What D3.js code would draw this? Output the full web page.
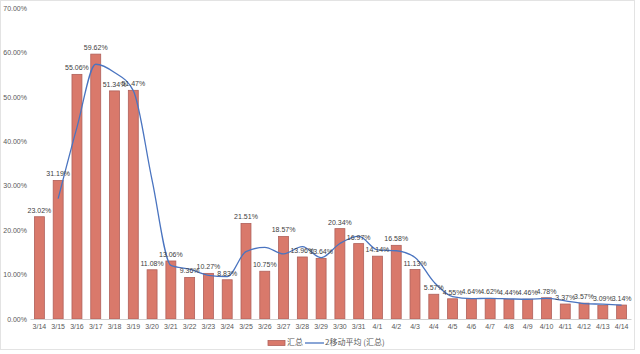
<!DOCTYPE html>
<meta charset="utf-8">
<script src="https://d3js.org/d3.v7.min.js"></script>
<style>
  body { margin: 0; background: #fff; }
  text { font-family: "Noto Sans CJK SC", "Liberation Sans", sans-serif; }
</style>
<div id="my_dataviz"></div>
<script>

// categories and values
var dates = ["3/14","3/15","3/16","3/17","3/18","3/19","3/20","3/21","3/22","3/23","3/24",
  "3/25","3/26","3/27","3/28","3/29","3/30","3/31","4/1","4/2","4/3","4/4","4/5","4/6",
  "4/7","4/8","4/9","4/10","4/11","4/12","4/13","4/14"];
var totals = [23.02,31.19,55.06,59.62,51.34,51.47,11.08,13.06,9.36,10.27,8.83,
  21.51,10.75,18.57,13.96,13.64,20.34,16.97,14.14,16.58,11.13,5.57,4.55,4.64,
  4.62,4.44,4.46,4.78,3.37,3.57,3.09,3.14];
// 2-period moving average line (starts at 3/15)
var movAvg = [null,27.11,43.13,57.34,55.48,51.41,31.28,12.07,11.21,9.82,9.55,
  15.17,16.13,14.66,16.27,13.80,16.99,18.66,15.56,15.36,13.86,8.35,5.06,4.60,
  4.63,4.53,4.45,4.62,4.08,3.47,3.33,3.12];
var yTicks = [0,10,20,30,40,50,60,70];

var W = 640, H = 354;
var margin = {top: 8, right: 9, bottom: 35, left: 30},
    width = 631 - margin.left,
    height = 319 - margin.top;

var root = d3.select("#my_dataviz")
  .append("svg")
    .attr("width", W)
    .attr("height", H);

// chart area border
root.append("rect")
  .attr("x", 0.5).attr("y", 0.5)
  .attr("width", 634).attr("height", 349)
  .attr("fill", "#fff")
  .attr("stroke", "#e3e3e3");

var svg = root.append("g")
  .attr("transform", "translate(" + margin.left + "," + margin.top + ")");

var x = d3.scaleBand()
  .domain(dates)
  .range([0, width])
  .paddingInner(0.47)
  .paddingOuter(0.235);

var y = d3.scaleLinear()
  .domain([0, 70])
  .range([height, 0]);

// Y axis labels (no line)
var yAxis = svg.append("g")
  .call(d3.axisLeft(y).tickValues(yTicks).tickSize(0).tickPadding(3)
    .tickFormat(function(d) { return d.toFixed(2) + "%"; }));
yAxis.select(".domain").remove();
yAxis.selectAll("text").style("font-size", "7px").attr("fill", "#595959")
  .style("font-family", "'Liberation Sans', sans-serif");

// bars
svg.append("g")
  .selectAll("rect")
  .data(totals)
  .enter()
  .append("rect")
    .attr("x", function(d, i) { return x(dates[i]); })
    .attr("y", function(d) { return y(d); })
    .attr("width", x.bandwidth())
    .attr("height", function(d) { return height - y(d); })
    .attr("fill", "#d9796b")
    .attr("stroke", "#b0605a")
    .attr("stroke-width", 0.8);

// X axis
var xAxis = svg.append("g")
  .attr("transform", "translate(0," + height + ")")
  .call(d3.axisBottom(x).tickSize(0).tickPadding(5));
xAxis.select(".domain").attr("stroke", "#d0d0d0");
xAxis.selectAll("text").style("font-size", "7px").attr("fill", "#595959")
  .style("font-family", "'Liberation Sans', sans-serif");

// moving average line
var line = d3.line()
  .defined(function(d) { return d != null; })
  .x(function(d, i) { return x(dates[i]) + x.bandwidth() / 2; })
  .y(function(d) { return y(d); })
  .curve(d3.curveMonotoneX);

svg.append("path")
  .datum(movAvg)
  .attr("fill", "none")
  .attr("stroke", "#4a74c0")
  .attr("stroke-width", 1.3)
  .attr("d", line);

// value labels
svg.append("g")
  .selectAll("text")
  .data(totals)
  .enter()
  .append("text")
    .attr("x", function(d, i) { return x(dates[i]) + x.bandwidth() / 2; })
    .attr("y", function(d) { return y(d) - 4; })
    .attr("text-anchor", "middle")
    .style("font-size", "7px")
    .style("font-family", "'Liberation Sans', sans-serif")
    .attr("fill", "#404040")
    .text(function(d) { return d.toFixed(2) + "%"; });

// legend
var leg = root.append("g").attr("transform", "translate(268,343)");
leg.append("rect")
  .attr("x", 0).attr("y", -2.5)
  .attr("width", 17).attr("height", 5)
  .attr("fill", "#d9796b").attr("stroke", "#b0605a").attr("stroke-width", 0.8);
leg.append("text")
  .attr("x", 19).attr("y", 0)
  .attr("dominant-baseline", "middle")
  .style("font-size", "8px").attr("fill", "#595959")
  .text("汇总");
leg.append("line")
  .attr("x1", 37).attr("x2", 56).attr("y1", 0).attr("y2", 0)
  .attr("stroke", "#4a74c0").attr("stroke-width", 1.3);
leg.append("text")
  .attr("x", 57).attr("y", 0)
  .attr("dominant-baseline", "middle")
  .style("font-size", "8px").attr("fill", "#595959")
  .text("2移动平均 (汇总)");

</script>
